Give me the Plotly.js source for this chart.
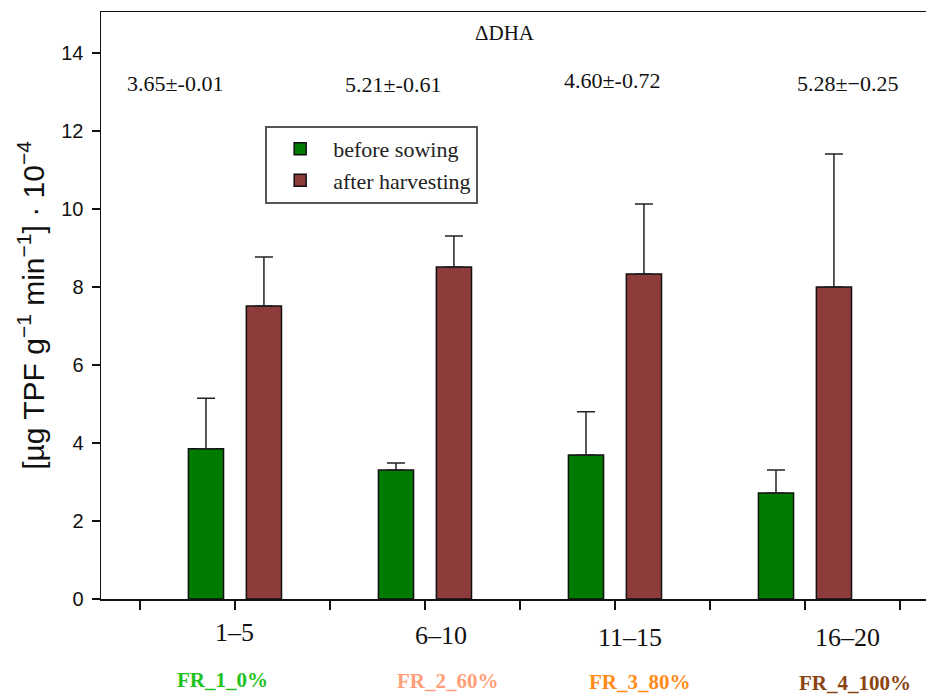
<!DOCTYPE html>
<html>
<head>
<meta charset="utf-8">
<script src="https://cdn.plot.ly/plotly-3.0.1.min.js"></script>
<style>html,body{margin:0;padding:0;background:#fff;}#chart{width:926px;height:695px;}</style>
</head>
<body>
<div id="chart"></div>
<script>
// ---- data ----
const groups = ['1–5', '6–10', '11–15', '16–20'];
const treatments = ['FR_1_0%', 'FR_2_60%', 'FR_3_80%', 'FR_4_100%'];
const dhaText = ['3.65±-0.01', '5.21±-0.61', '4.60±-0.72', '5.28±−0.25'];
const beforeSowing = [3.85, 3.31, 3.69, 2.72];
const beforeSowingErr = [1.30, 0.18, 1.11, 0.59];
const afterHarvesting = [7.51, 8.51, 8.33, 8.00];
const afterHarvestingErr = [1.26, 0.80, 1.80, 3.41];
const yTicks = [0, 2, 4, 6, 8, 10, 12, 14];

const xPos = groups.map((g, i) => i + 1);
const zeros = groups.map(() => 0);

const serif = 'Liberation Serif, Times New Roman, serif';
const sans = 'Liberation Sans, Arial, sans-serif';

const traces = [
  {
    type: 'bar', name: 'before sowing', x: xPos, y: beforeSowing,
    width: 0.185, offset: -0.245,
    marker: {color: '#007a00', line: {color: '#111', width: 1.5}},
    error_y: {type: 'data', array: beforeSowingErr, arrayminus: zeros, symmetric: false,
              color: '#222', thickness: 1.5, width: 9},
    hoverinfo: 'y'
  },
  {
    type: 'bar', name: 'after harvesting', x: xPos, y: afterHarvesting,
    width: 0.185, offset: 0.06,
    marker: {color: '#8e3b3b', line: {color: '#111', width: 1.5}},
    error_y: {type: 'data', array: afterHarvestingErr, arrayminus: zeros, symmetric: false,
              color: '#222', thickness: 1.5, width: 9},
    hoverinfo: 'y'
  }
];

// annotation placement (paper coords)
const dhaX = [0.0897, 0.354, 0.619, 0.905];
const dhaY = [0.879, 0.876, 0.884, 0.879];
const grpX = [0.162, 0.412, 0.641, 0.905];
const grpY = [-0.057, -0.062, -0.065, -0.066];
const trtX = [0.147, 0.421, 0.653, 0.914];
const trtY = [-0.138, -0.140, -0.141, -0.143];
const trtColors = ['#1fc21f', '#ffa07a', '#ff8c1a', '#8b4513'];

const annotations = [
  {text: 'ΔDHA', xref: 'paper', yref: 'paper', x: 0.49, y: 0.964,
   xanchor: 'center', yanchor: 'middle',
   showarrow: false, font: {family: serif, size: 21, color: '#111'}}
];
dhaText.forEach((t, i) => annotations.push({
  text: t, xref: 'paper', yref: 'paper', x: dhaX[i], y: dhaY[i],
  xanchor: 'center', yanchor: 'middle',
  showarrow: false, font: {family: serif, size: 22, color: '#111'}
}));
groups.forEach((t, i) => annotations.push({
  text: t, xref: 'paper', yref: 'paper', x: grpX[i], y: grpY[i],
  xanchor: 'center', yanchor: 'middle',
  showarrow: false, font: {family: serif, size: 26, color: '#111'}
}));
treatments.forEach((t, i) => annotations.push({
  text: '<b>' + t + '</b>', xref: 'paper', yref: 'paper', x: trtX[i], y: trtY[i],
  xanchor: 'center', yanchor: 'middle',
  showarrow: false, font: {family: serif, size: 21, color: trtColors[i]}
}));

const layout = {
  width: 926, height: 695,
  margin: {l: 101, r: 0, t: 12, b: 96},
  paper_bgcolor: '#fff', plot_bgcolor: '#fff',
  showlegend: true,
  legend: {
    x: 0.199, y: 0.806, xanchor: 'left', yanchor: 'top',
    bgcolor: '#fff', bordercolor: '#555', borderwidth: 2,
    font: {family: serif, size: 22, color: '#222'},
    itemwidth: 56
  },
  xaxis: {
    range: [0.295, 4.637],
    tickmode: 'linear', tick0: 0.5, dtick: 0.5,
    ticks: 'outside', ticklen: 9, tickwidth: 1.5, tickcolor: '#111',
    showticklabels: false,
    showline: true, linecolor: '#111', linewidth: 1.5, mirror: true,
    showgrid: false, zeroline: false, fixedrange: true
  },
  yaxis: {
    range: [0, 15.05],
    tickmode: 'array', tickvals: yTicks,
    ticks: 'outside', ticklen: 8, tickwidth: 1.5, tickcolor: '#111',
    tickfont: {family: sans, size: 20, color: '#111'},
    ticklabelstandoff: 4,
    showline: true, linecolor: '#111', linewidth: 1.5,
    showgrid: false, zeroline: false, fixedrange: true,
    title: {text: '[µg TPF g<sup>−1</sup> min<sup>−1</sup>] · 10<sup>−4</sup>',
            font: {family: sans, size: 30, color: '#111'}, standoff: 8}
  },
  annotations: annotations
};

Plotly.newPlot('chart', traces, layout, {displayModeBar: false, staticPlot: true});
</script>
</body>
</html>
